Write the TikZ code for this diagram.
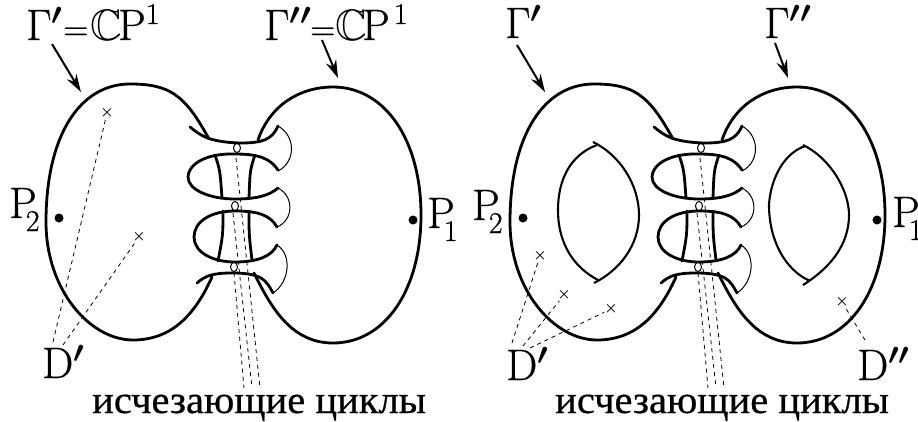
\documentclass[tikz,border=0pt]{standalone}
\usepackage{amsmath,amssymb}
\usepackage{fix-cm}
\usepackage{fontspec}
\newfontfamily\rufont[FakeStretch=1.04,FakeBold=0.6]{Liberation Serif}
\newfontfamily\lmfont[FakeBold=0.6]{Latin Modern Roman}
\usetikzlibrary{arrows.meta,shapes.geometric}
\newcommand{\lowidx}[1]{\kern-11pt\lower13pt\hbox{\fontsize{30}{30}\selectfont #1}}
\newcommand{\upidx}{\kern0pt\raise16pt\hbox{\fontsize{30}{30}\selectfont 1}}
\newcommand{\eqsign}{{\fontsize{35}{35}\selectfont =}}
\newcommand{\onepr}{$^{\boldsymbol{\prime}}$}
\newcommand{\twopr}{$^{\boldsymbol{\prime\prime}}$}
\tikzset{
  thickline/.style={line width=2.8pt,line cap=round},
  holeline/.style={line width=2.1pt},
  thinline/.style={line width=1pt},
  cycleline/.style={line width=0.8pt,dash pattern=on 4pt off 4pt},
  neckcircle/.style={draw,fill=white,ellipse,line width=1pt,minimum width=7pt,minimum height=9pt,inner sep=0pt},
  bigtext/.style={anchor=base west,inner sep=0pt,font=\fontsize{44}{44}\selectfont\lmfont},
  rutext/.style={anchor=base west,inner sep=0pt,font=\fontsize{39}{39}\selectfont\rufont},
  crossmark/.style={inner sep=0pt,font=\fontsize{15}{15}\selectfont},
  pointarrow/.style={-{Stealth[length=18pt,width=11pt,inset=6pt]},line width=2pt},
}
\begin{document}
\begin{tikzpicture}[x=1pt,y=-1pt]
\useasboundingbox (0,0) rectangle (918,421);
% Two surfaces with the same outline and neck
\foreach \dx in {0,464} {
\begin{scope}[xshift=\dx]
  % Left lobe
  \draw[thickline] (209,139) .. controls (185,95) and (170,84) .. (130,84) .. controls (80,84) and (46,135) .. (46,222) .. controls (46,290) and (90,340) .. (133,340) .. controls (175,340) and (197,310) .. (212,277);
  % Right lobe
  \draw[thickline] (258,140) .. controls (270,105) and (300,87) .. (333,87) .. controls (385,87) and (421,140) .. (421,215) .. controls (421,290) and (385,343) .. (333,343) .. controls (290,343) and (270,305) .. (254,273);
  % Neck pieces
  \draw[thickline] (190,127) .. controls (200,135) and (208,142) .. (240,143) .. controls (262,143) and (272,140) .. (278,126);
  \draw[thickline] (278,170) .. controls (270,158) and (258,154) .. (235,154) .. controls (205,153) and (188,165) .. (188,177) .. controls (188,190) and (210,199) .. (235,199) .. controls (258,199) and (270,195) .. (278,188);
  \draw[thickline] (277,227) .. controls (270,215) and (258,211) .. (235,211) .. controls (210,211) and (194,222) .. (194,237) .. controls (194,252) and (212,262) .. (235,262) .. controls (258,262) and (272,256) .. (277,245);
  \draw[thickline] (197,283) .. controls (205,276) and (212,273) .. (232,273) .. controls (262,273) and (266,280) .. (273,293);
  % Inner walls
  \draw[thickline] (215,155) .. controls (220,170) .. (222,198);
  \draw[thickline] (255,155) .. controls (250,170) .. (249,198);
  \draw[thickline] (223,211) .. controls (223,235) .. (218,261);
  \draw[thickline] (249,211) .. controls (249,235) .. (252,260);
  % Thin arcs
  \draw[thinline] (278,126) .. controls (296,136) and (296,162) .. (278,171);
  \draw[thinline] (278,188) .. controls (294,196) and (294,220) .. (277,227);
  \draw[thinline] (277,245) .. controls (292,254) and (290,282) .. (273,293);
  % Small circles
  \node[neckcircle] (c1) at (237,148) {};
  \node[neckcircle] (c2) at (235,206) {};
  \node[neckcircle] (c3) at (234,267) {};
  % Vanishing cycles
  \draw[cycleline] (236,158) -- (260,388);
  \draw[cycleline] (233,213) -- (252,388);
  \draw[cycleline] (234,273) -- (244,388);
\end{scope}
}
% Left picture
\fill (59,218) circle (4.5);
\fill (413,220) circle (4.5);
\node[crossmark] (xa) at (107,113) {$\boldsymbol{\times}$};
\node[crossmark] (xb) at (139,237) {$\boldsymbol{\times}$};
\coordinate (da) at (53,342);
\coordinate (db) at (63,345);
\draw[cycleline] (da) -- (xa);
\draw[cycleline] (db) -- (xb);
\node[bigtext] (g1) at (26,40) {Γ\onepr};
\node[bigtext] (eq1) at (63,40) {\eqsign\kern2pt$\mathbb{C}$\kern-4pt P\upidx};
\node[bigtext] (g2) at (264,40) {Γ\twopr};
\node[bigtext] (eq2) at (310,40) {\eqsign$\mathbb{C}$\kern-5pt P\kern4pt\upidx};
\node[bigtext] (p2) at (9,218) {P\lowidx{2}};
\node[bigtext] (p1) at (427,228) {P\lowidx{1}};
\node[bigtext] (d1) at (42,378) {D\onepr};
\node[rutext] (t1) at (92,413) {исчезающие циклы};
\coordinate (ta) at (81,92);
\coordinate (tb) at (338,78);
\draw[pointarrow] (52,44) -- (ta);
\draw[pointarrow] (322,40) -- (tb);
% Right picture
\fill (523,218) circle (4.5);
\fill (877,220) circle (4.5);
\draw[holeline] (597,145) .. controls (570,155) and (558,180) .. (558,210) .. controls (558,245) and (575,268) .. (598,280);
\draw[holeline] (593,142) .. controls (620,155) and (639,185) .. (639,215) .. controls (639,245) and (620,270) .. (594,283);
\draw[holeline] (805,146) .. controls (780,155) and (770,185) .. (769,205) .. controls (769,240) and (785,270) .. (810,281);
\draw[holeline] (803,145) .. controls (830,158) and (849,190) .. (849,215) .. controls (849,245) and (830,268) .. (803,285);
\node[crossmark] (xc) at (540,256) {$\boldsymbol{\times}$};
\node[crossmark] (xd) at (564,295) {$\boldsymbol{\times}$};
\node[crossmark] (xe) at (611,309) {$\boldsymbol{\times}$};
\node[crossmark] (xf) at (842,302) {$\boldsymbol{\times}$};
\coordinate (dc) at (512,343);
\coordinate (dd) at (523,346);
\coordinate (de) at (530,348);
\coordinate (df) at (865,340);
\draw[cycleline] (dc) -- (xc);
\draw[cycleline] (dd) -- (xd);
\draw[cycleline] (de) -- (xe);
\draw[cycleline] (df) -- (xf);
\node[bigtext] (g3) at (505,38) {Γ\onepr};
\node[bigtext] (g4) at (764,38) {Γ\twopr};
\node[bigtext] (p4) at (472,220) {P\lowidx{2}};
\node[bigtext] (p3) at (892,227) {P\lowidx{1}};
\node[bigtext] (d2) at (506,380) {D\onepr};
\node[bigtext] (d3) at (857,380) {D\twopr};
\node[rutext] (t2) at (555,413) {исчезающие циклы};
\coordinate (tc) at (545,92);
\coordinate (td) at (788,78);
\draw[pointarrow] (517,45) -- (tc);
\draw[pointarrow] (775,43) -- (td);
\end{tikzpicture}
\end{document}
